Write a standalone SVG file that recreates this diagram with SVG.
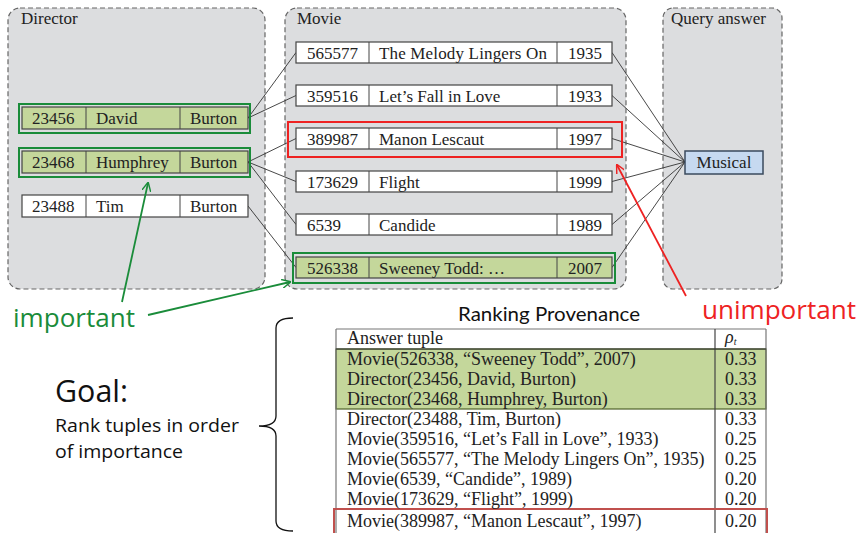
<svg xmlns="http://www.w3.org/2000/svg" width="860" height="533" viewBox="0 0 860 533">
<defs>
<style>
.panel{fill:#dcdddf;stroke:#666;stroke-width:1.2;stroke-dasharray:5,3}
.plabel{font-family:"Liberation Serif",serif;font-size:17px;fill:#222}
.row{fill:#fff;stroke:#444;stroke-width:1.2}
.rowg{fill:#c4d79b;stroke:#444;stroke-width:1.2}
.hlg{fill:none;stroke:#1a8c3a;stroke-width:2}
.hlr{fill:none;stroke:#ee2222;stroke-width:2}
.t{font-family:"Liberation Serif",serif;font-size:17px;fill:#222}
.conn line{stroke:#333;stroke-width:0.9}
.tt{font-family:"Liberation Serif",serif;font-size:18px;fill:#222}
.sans{font-family:"Open Sans","Noto Sans",sans-serif}
</style>
<marker id="ag" viewBox="0 0 10 10" refX="9" refY="5" markerWidth="9" markerHeight="9" orient="auto" markerUnits="userSpaceOnUse">
<path d="M0,0 L10,5 L0,10" fill="none" stroke="#1a8c3a" stroke-width="1.6"/>
</marker>
<marker id="ar" viewBox="0 0 10 10" refX="9" refY="5" markerWidth="9" markerHeight="9" orient="auto" markerUnits="userSpaceOnUse">
<path d="M0,0 L10,5 L0,10" fill="none" stroke="#ee2222" stroke-width="1.6"/>
</marker>
</defs>
<rect width="860" height="533" fill="#fff"/>

<g id="panel-director">
<rect class="panel" x="8" y="8" width="257" height="281" rx="12"/>
<text class="plabel" x="21" y="24">Director</text>
</g>
<g id="panel-movie">
<rect class="panel" x="285" y="8" width="341" height="281" rx="12"/>
<text class="plabel" x="297" y="24">Movie</text>
</g>
<g id="panel-query">
<rect class="panel" x="663" y="8" width="119" height="281" rx="10"/>
<text class="plabel" x="671" y="24">Query answer</text>
</g>

<g id="connectors" class="conn">
<line x1="248" y1="118" x2="296" y2="52.5"/>
<line x1="248" y1="118" x2="296" y2="95.5"/>
<line x1="248" y1="162" x2="296" y2="138.5"/>
<line x1="248" y1="162" x2="296" y2="181.5"/>
<line x1="248" y1="162" x2="296" y2="224.5"/>
<line x1="248" y1="206" x2="296" y2="267.5"/>
<line x1="612" y1="52.5" x2="685" y2="162"/>
<line x1="612" y1="95.5" x2="685" y2="162"/>
<line x1="612" y1="138.5" x2="685" y2="162"/>
<line x1="612" y1="181.5" x2="685" y2="162"/>
<line x1="612" y1="224.5" x2="685" y2="162"/>
<line x1="612" y1="267.5" x2="685" y2="162"/>
</g>

<g id="dir-23456">
<rect class="hlg" x="19" y="104" width="231" height="29"/>
<rect class="rowg" x="22" y="107" width="226" height="22"/>
<line x1="86" y1="107" x2="86" y2="129" stroke="#444"/>
<line x1="180" y1="107" x2="180" y2="129" stroke="#444"/>
<text class="t" x="32" y="124">23456</text><text class="t" x="96" y="124">David</text><text class="t" x="190" y="124">Burton</text>
</g>
<g id="dir-23468">
<rect class="hlg" x="19" y="148" width="231" height="29"/>
<rect class="rowg" x="22" y="151" width="226" height="22"/>
<line x1="86" y1="151" x2="86" y2="173" stroke="#444"/>
<line x1="180" y1="151" x2="180" y2="173" stroke="#444"/>
<text class="t" x="32" y="168">23468</text><text class="t" x="96" y="168">Humphrey</text><text class="t" x="190" y="168">Burton</text>
</g>
<g id="dir-23488">
<rect class="row" x="22" y="195" width="226" height="22"/>
<line x1="86" y1="195" x2="86" y2="217" stroke="#444"/>
<line x1="180" y1="195" x2="180" y2="217" stroke="#444"/>
<text class="t" x="32" y="212">23488</text><text class="t" x="96" y="212">Tim</text><text class="t" x="190" y="212">Burton</text>
</g>

<g id="mov-565577">
<rect class="row" x="296" y="42" width="316" height="21"/>
<line x1="369" y1="42" x2="369" y2="63" stroke="#444"/><line x1="557" y1="42" x2="557" y2="63" stroke="#444"/>
<text class="t" x="307" y="58.5">565577</text><text class="t" x="379" y="58.5" textLength="168">The Melody Lingers On</text><text class="t" x="568" y="58.5">1935</text>
</g>
<g id="mov-359516">
<rect class="row" x="296" y="85" width="316" height="21"/>
<line x1="369" y1="85" x2="369" y2="106" stroke="#444"/><line x1="557" y1="85" x2="557" y2="106" stroke="#444"/>
<text class="t" x="307" y="101.5">359516</text><text class="t" x="379" y="101.5">Let’s Fall in Love</text><text class="t" x="568" y="101.5">1933</text>
</g>
<g id="mov-389987">
<rect class="hlr" x="288" y="122" width="334" height="35"/>
<rect class="row" x="296" y="128" width="316" height="21"/>
<line x1="369" y1="128" x2="369" y2="149" stroke="#444"/><line x1="557" y1="128" x2="557" y2="149" stroke="#444"/>
<text class="t" x="307" y="144.5">389987</text><text class="t" x="379" y="144.5">Manon Lescaut</text><text class="t" x="568" y="144.5">1997</text>
</g>
<g id="mov-173629">
<rect class="row" x="296" y="171" width="316" height="21"/>
<line x1="369" y1="171" x2="369" y2="192" stroke="#444"/><line x1="557" y1="171" x2="557" y2="192" stroke="#444"/>
<text class="t" x="307" y="187.5">173629</text><text class="t" x="379" y="187.5">Flight</text><text class="t" x="568" y="187.5">1999</text>
</g>
<g id="mov-6539">
<rect class="row" x="296" y="214" width="316" height="21"/>
<line x1="369" y1="214" x2="369" y2="235" stroke="#444"/><line x1="557" y1="214" x2="557" y2="235" stroke="#444"/>
<text class="t" x="307" y="230.5">6539</text><text class="t" x="379" y="230.5">Candide</text><text class="t" x="568" y="230.5">1989</text>
</g>
<g id="mov-526338">
<rect class="hlg" x="293" y="253" width="322" height="30"/>
<rect class="rowg" x="296" y="257" width="316" height="21"/>
<line x1="369" y1="257" x2="369" y2="278" stroke="#444"/><line x1="557" y1="257" x2="557" y2="278" stroke="#444"/>
<text class="t" x="307" y="273.5">526338</text><text class="t" x="379" y="273.5">Sweeney Todd: …</text><text class="t" x="568" y="273.5">2007</text>
</g>

<g id="musical">
<rect x="685" y="151" width="78" height="23" fill="#c6d9f0" stroke="#3a4a5e" stroke-width="1.5"/>
<text class="t" x="724" y="168" text-anchor="middle">Musical</text>
</g>

<g id="annotations">
<line x1="122" y1="302" x2="148" y2="183" stroke="#1a8c3a" stroke-width="1.8" marker-end="url(#ag)"/>
<line x1="148" y1="315" x2="290" y2="282" stroke="#1a8c3a" stroke-width="1.8" marker-end="url(#ag)"/>
<text class="sans" x="13" y="327" font-size="25" fill="#1a8c3a" textLength="122" lengthAdjust="spacingAndGlyphs">important</text>
<line x1="686" y1="296" x2="617" y2="165" stroke="#ee2222" stroke-width="1.8" marker-end="url(#ar)"/>
<text class="sans" x="702" y="319" font-size="25" fill="#ee2222" textLength="154" lengthAdjust="spacingAndGlyphs">unimportant</text>
</g>

<g id="goal">
<text class="sans" x="55" y="402" font-size="31" fill="#111" textLength="73" lengthAdjust="spacingAndGlyphs">Goal:</text>
<text class="sans" x="55" y="432" font-size="19" fill="#111" textLength="184" lengthAdjust="spacingAndGlyphs">Rank tuples in order</text>
<text class="sans" x="55" y="458" font-size="19" fill="#111" textLength="128" lengthAdjust="spacingAndGlyphs">of importance</text>
<path d="M293,318 Q276,318 276,328 L276,416 Q276,426 259,426 Q276,426 276,436 L276,521 Q276,531 293,531" fill="none" stroke="#111" stroke-width="1.3"/>
</g>

<g id="ranking-table">
<text x="549" y="321" text-anchor="middle" font-family="Lato,'Open Sans',sans-serif" font-size="20" fill="#111" textLength="182" lengthAdjust="spacingAndGlyphs">Ranking Provenance</text>
<rect x="336" y="349" width="430" height="60" fill="#c4d79b" stroke="#4f6228" stroke-width="1.2"/>
<line x1="336" y1="329" x2="766" y2="329" stroke="#777" stroke-width="1.2"/>
<line x1="336" y1="329" x2="336" y2="533" stroke="#777" stroke-width="1.2"/>
<line x1="766" y1="329" x2="766" y2="533" stroke="#777" stroke-width="1.2"/>
<line x1="715" y1="329" x2="715" y2="533" stroke="#444" stroke-width="1.2"/>
<line x1="336" y1="349" x2="766" y2="349" stroke="#333" stroke-width="1.2"/>
<rect x="334" y="509" width="433" height="30" fill="none" stroke="#c0504d" stroke-width="2"/>
<text class="tt" x="347" y="344" textLength="96">Answer tuple</text>
<text class="tt" x="725" y="343" font-size="16" font-style="italic">ρ<tspan font-size="10" dy="2">t</tspan></text>
<text class="tt" x="347" y="365">Movie(526338, “Sweeney Todd”, 2007)</text><text class="tt" x="725" y="365">0.33</text>
<text class="tt" x="347" y="385">Director(23456, David, Burton)</text><text class="tt" x="725" y="385">0.33</text>
<text class="tt" x="347" y="405">Director(23468, Humphrey, Burton)</text><text class="tt" x="725" y="405">0.33</text>
<text class="tt" x="347" y="425">Director(23488, Tim, Burton)</text><text class="tt" x="725" y="425">0.33</text>
<text class="tt" x="347" y="445">Movie(359516, “Let’s Fall in Love”, 1933)</text><text class="tt" x="725" y="445">0.25</text>
<text class="tt" x="347" y="465">Movie(565577, “The Melody Lingers On”, 1935)</text><text class="tt" x="725" y="465">0.25</text>
<text class="tt" x="347" y="485">Movie(6539, “Candide”, 1989)</text><text class="tt" x="725" y="485">0.20</text>
<text class="tt" x="347" y="505">Movie(173629, “Flight”, 1999)</text><text class="tt" x="725" y="505">0.20</text>
<text class="tt" x="347" y="527">Movie(389987, “Manon Lescaut”, 1997)</text><text class="tt" x="725" y="527">0.20</text>
</g>
</svg>
